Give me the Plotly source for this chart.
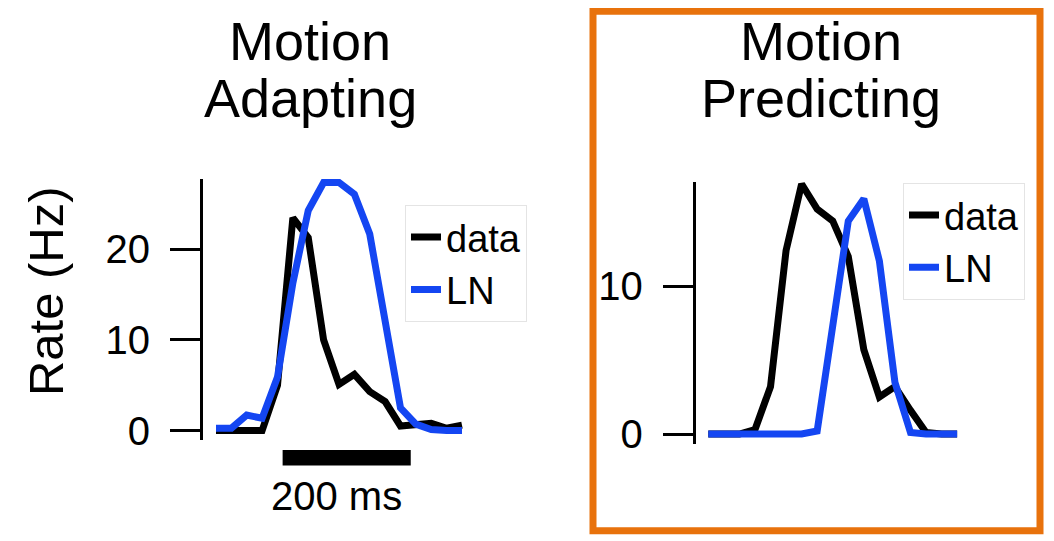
import plotly.graph_objects as go

# ---------------- data ----------------
time_ms = [0, 24, 48, 72, 96, 120, 144, 168, 192, 216, 240, 264, 288, 312, 336, 360, 384]

adapting_data = [0, 0, 0, 0, 5.0, 23.5, 21.3, 10.0, 5.1, 6.2, 4.3, 3.2, 0.5, 0.7, 0.8, 0.25, 0.6]
adapting_ln = [0.25, 0.25, 1.7, 1.35, 5.9, 16.3, 24.3, 27.4, 27.4, 26.1, 21.7, 12.4, 2.5, 0.7, 0.1, 0.0, 0.0]

predicting_data = [0, 0, 0, 0.3, 3.2, 12.4, 16.9, 15.2, 14.4, 12.0, 5.7, 2.5, 3.2, 1.6, 0.1, 0, 0]
predicting_ln = [0, 0, 0, 0, 0, 0, 0, 0.2, 7.7, 14.4, 15.9, 11.7, 3.5, 0.1, 0, 0, 0]

panel_titles = [["Motion", "Adapting"], ["Motion", "Predicting"]]
series_names = ["data", "LN"]
left_ticks = [0, 10, 20]
right_ticks = [0, 10]
y_title = "Rate (Hz)"
scale_bar_ms = 200
scale_label = "200 ms"

# ---------------- styling ----------------
# Page body has an 8 px margin; the captured page is slightly squeezed
# vertically, so window-pixel positions are converted accordingly.
PAGE_OFF = 8
SY = 0.973
W, H = 1054 - 2 * PAGE_OFF, 541
FONT = "Liberation Sans, Arial, Helvetica, sans-serif"
BLACK = "#000000"
BLUE = "#1446F2"
ORANGE = "#E8720C"


def px_x(x):
    return (x - PAGE_OFF) / W


def px_y(y):
    return 1 - (y / SY - PAGE_OFF) / H


fig = go.Figure()

# left panel traces
fig.add_trace(go.Scatter(x=time_ms, y=adapting_data, mode="lines", name=series_names[0],
                         line=dict(color=BLACK, width=7), xaxis="x", yaxis="y", legend="legend"))
fig.add_trace(go.Scatter(x=time_ms, y=adapting_ln, mode="lines", name=series_names[1],
                         line=dict(color=BLUE, width=7), xaxis="x", yaxis="y", legend="legend"))
# right panel traces
fig.add_trace(go.Scatter(x=time_ms, y=predicting_data, mode="lines", name=series_names[0],
                         line=dict(color=BLACK, width=7), xaxis="x2", yaxis="y2", legend="legend2"))
fig.add_trace(go.Scatter(x=time_ms, y=predicting_ln, mode="lines", name=series_names[1],
                         line=dict(color=BLUE, width=7), xaxis="x2", yaxis="y2", legend="legend2"))

# ---- axis geometry (window-pixel layout of the reference) ----
# left panel
L_axis_x, L_right = 203, 480
L_t0_px, L_pxms = 216, 0.6406
L_top, L_bot, L_zero, L_pxunit = 178, 438, 429, 9.025
# right panel
R_axis_x, R_right = 695.7, 975
R_t0_px, R_pxms = 708.3, 0.648
R_top, R_bot, R_zero, R_pxunit = 181, 442.7, 432.5, 14.75

yaxis_common = dict(showline=True, linecolor=BLACK, linewidth=3, ticks="outside", ticklen=30,
                    tickwidth=3, tickcolor=BLACK, showgrid=False, zeroline=False,
                    tickfont=dict(family=FONT, size=40, color=BLACK), ticklabelstandoff=12)

fig.update_layout(
    xaxis=dict(domain=[px_x(L_axis_x), px_x(L_right)],
               range=[(L_axis_x - L_t0_px) / L_pxms, (L_right - L_t0_px) / L_pxms],
               visible=False),
    yaxis=dict(domain=[px_y(L_bot), px_y(L_top)],
               range=[(L_zero - L_bot) / L_pxunit, (L_zero - L_top) / L_pxunit],
               tickvals=left_ticks, anchor="x", **yaxis_common),
    xaxis2=dict(domain=[px_x(R_axis_x), px_x(R_right)],
                range=[(R_axis_x - R_t0_px) / R_pxms, (R_right - R_t0_px) / R_pxms],
                visible=False, anchor="y2"),
    yaxis2=dict(domain=[px_y(R_bot), px_y(R_top)],
                range=[(R_zero - R_bot) / R_pxunit, (R_zero - R_top) / R_pxunit],
                tickvals=right_ticks, anchor="x2", **yaxis_common),
)

legend_common = dict(font=dict(family=FONT, size=38, color=BLACK), bgcolor="rgba(255,255,255,0)",
                     bordercolor="#e4e4e4", borderwidth=1, itemwidth=30, xanchor="left",
                     yanchor="top", tracegroupgap=0)
fig.update_layout(
    legend=dict(x=px_x(405), y=px_y(204), **legend_common),
    legend2=dict(x=px_x(903), y=px_y(182), **legend_common),
)

annotations = []
# titles
for cx, lines in [(310, panel_titles[0]), (821, panel_titles[1])]:
    for cy, txt in zip([41, 97.5], lines):
        annotations.append(dict(text=txt, x=px_x(cx), y=px_y(cy), xref="paper", yref="paper",
                                xanchor="center", yanchor="middle", showarrow=False,
                                font=dict(family=FONT, size=54, color=BLACK)))
# y-axis title
annotations.append(dict(text=y_title, x=px_x(46), y=px_y(290), xref="paper", yref="paper",
                        textangle=-90, xanchor="center", yanchor="middle", showarrow=False,
                        font=dict(family=FONT, size=49, color=BLACK)))
# scale bar label
bar_start = 104
annotations.append(dict(text=scale_label, x=bar_start + scale_bar_ms / 2, y=px_y(494),
                        xref="x", yref="paper", xanchor="center", yanchor="middle", xshift=-10,
                        showarrow=False, font=dict(family=FONT, size=40, color=BLACK)))

shapes = [
    # scale bar (200 ms)
    dict(type="rect", xref="x", yref="paper", x0=bar_start, x1=bar_start + scale_bar_ms,
         y0=px_y(464), y1=px_y(448.5), fillcolor=BLACK, line=dict(width=0)),
    # orange highlight box
    dict(type="rect", xref="paper", yref="paper", x0=px_x(593), x1=px_x(1040),
         y0=px_y(529), y1=px_y(11), line=dict(color=ORANGE, width=7)),
]

fig.update_layout(
    width=W, height=H, margin=dict(l=0, r=0, t=0, b=0),
    paper_bgcolor="white", plot_bgcolor="rgba(0,0,0,0)",
    annotations=annotations, shapes=shapes, showlegend=True,
    font=dict(family=FONT, color=BLACK),
)

fig.write_html("out.html")
